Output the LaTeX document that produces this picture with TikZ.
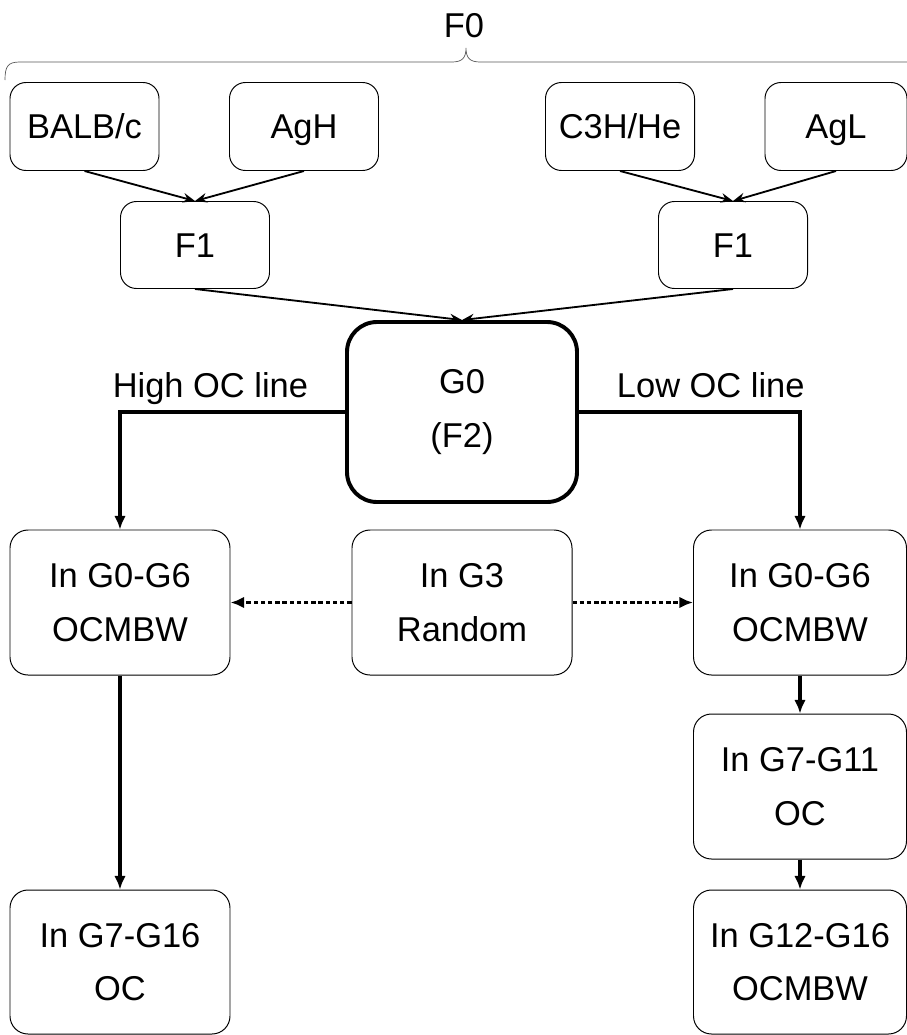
\documentclass[tikz,border=0pt]{standalone}
\usepackage{fontspec}
\setmainfont{Liberation Sans}
\usetikzlibrary{arrows.meta}

\begin{document}
\begin{tikzpicture}[x=0.25mm, y=-0.25mm,
      every node/.style = {font=\fontsize{24.5}{38}\selectfont, align=center},
      oneline/.style = {text height=17.6pt, text depth=0pt},
      box/.style = {shape=rectangle, rounded corners=4.5mm, draw,
        line width=0.7pt, inner sep=0pt},
      strainbox/.style = {box, oneline, minimum width=37.25mm, minimum height=22mm, rounded corners=4mm},
      genbox/.style = {box, minimum width=55mm, minimum height=36.25mm},
      rootbox/.style = {box, rounded corners=7.5mm, line width=2.8pt,
        minimum width=57.5mm, minimum height=45mm},
      cross/.style = {line width=1.3pt, -{Stealth[length=3mm, width=2.4mm, inset=1mm]}},
      link/.style = {line width=2.2pt, -{Latex[length=3.4mm, width=2.9mm]}},
      dotlink/.style = {link, line width=2.8pt, dash pattern=on 1.1mm off 0.7mm}]
  \useasboundingbox (0,0) rectangle (907,1035);

  \node[oneline] (f0) at (464,25) {F0};
  \draw[gray!70!black, line width=0.5pt] (5,80) .. controls (5,66) and (8,62) .. (20,62)
    -- (452,62) .. controls (462,62) and (466,58) .. (466,48)
    .. controls (466,58) and (470,62) .. (480,62) -- (930,62);

  \node[strainbox] (balb) at (84.5,126.5) {BALB/c};
  \node[strainbox] (agh) at (304,126.5) {AgH};
  \node[strainbox] (c3h) at (620,126.5) {C3H/He};
  \node[strainbox, minimum width=35.5mm] (agl) at (836,126.5) {AgL};

  \node[strainbox, minimum height=21.75mm] (f1l) at (195,245) {F1};
  \node[strainbox, minimum height=21.75mm] (f1r) at (733,245) {F1};

  \node[rootbox] (g0) at (462,412) {G0\\(F2)};
  \node[oneline, anchor=east] (high) at (313,385) {High OC line};
  \node[oneline, anchor=west] (low) at (612,385) {Low OC line};

  \node[genbox] (hisel) at (120,602.5) {In G0-G6\\OCMBW};
  \node[genbox] (rand) at (462,602.5) {In G3\\Random};
  \node[genbox, minimum width=53.25mm] (losel) at (800,602.5) {In G0-G6\\OCMBW};
  \node[genbox, minimum width=53.25mm] (lomid) at (800,786.5) {In G7-G11\\OC};
  \node[genbox, minimum height=36mm] (hiend) at (120,962) {In G7-G16\\OC};
  \node[genbox, minimum width=53.25mm, minimum height=36mm] (loend) at (800,962) {In G12-G16\\OCMBW};

  \draw[cross] (balb.south) -- (f1l.north);
  \draw[cross] (agh.south) -- (f1l.north);
  \draw[cross] (c3h.south) -- (f1r.north);
  \draw[cross] (agl.south) -- (f1r.north);
  \draw[cross] (f1l.south) -- (g0.north);
  \draw[cross] (f1r.south) -- (g0.north);

  \draw[link] (g0.west) -| (hisel.north);
  \draw[link] (g0.east) -| (losel.north);
  \draw[dotlink] (rand.west) -- (hisel.east);
  \draw[dotlink] (rand.east) -- (losel.west);
  \draw[link] (hisel.south) -- (hiend.north);
  \draw[link] (losel.south) -- (lomid.north);
  \draw[link] (lomid.south) -- (loend.north);
\end{tikzpicture}
\end{document}
